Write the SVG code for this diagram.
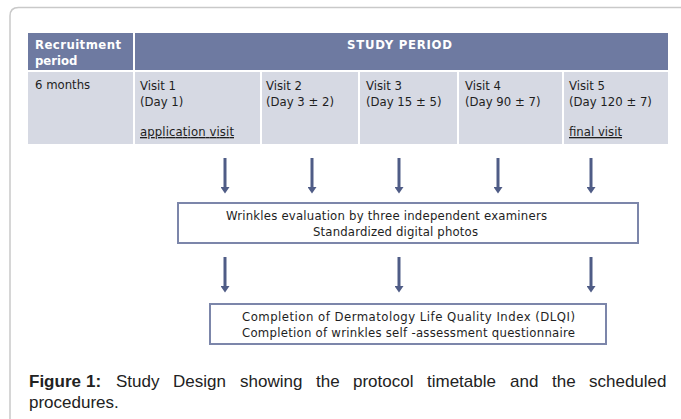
<svg xmlns="http://www.w3.org/2000/svg" width="681" height="419" viewBox="0 0 681 419">
<defs>
<style>
.t{font-family:"DejaVu Sans Condensed","DejaVu Sans","Liberation Sans",sans-serif;font-stretch:condensed;font-size:13px;fill:#1e1e1e}
.h{font-family:"DejaVu Sans Condensed","DejaVu Sans","Liberation Sans",sans-serif;font-stretch:condensed;font-size:13px;font-weight:bold;fill:#fff}
.b{font-family:"DejaVu Sans Condensed","DejaVu Sans","Liberation Sans",sans-serif;font-stretch:condensed;font-size:13px;fill:#1e1e1e}
.cap{font-family:"Liberation Sans","Arial",sans-serif;font-size:17px;fill:#222}
.hd{fill:#6e7aa1}
.cell{fill:#d6d9e3}
.box{fill:#fff;stroke:#7c86aa;stroke-width:2}
.sh{stroke:#4f5c86;stroke-width:3}
.ah{fill:#4f5c86}
</style>
<marker id="arr" markerWidth="3" markerHeight="3" refX="0" refY="1.5" orient="auto" markerUnits="strokeWidth">
<path d="M0,0 L2.2,1.5 L0,3 Z" class="ah"/>
</marker>
</defs>
<rect width="681" height="419" fill="#fff"/>
<path d="M10,419 L10,16 Q10,7.5 18.5,7.5 L681,7.5" fill="none" stroke="#c9c9c9" stroke-width="1.5"/>

<g id="table">
<g id="hdr-recruit">
<rect class="hd" x="28" y="33" width="105" height="37"/>
<text class="h" x="35" y="49" textLength="86">Recruitment</text>
<text class="h" x="35" y="65">period</text>
</g>
<g id="hdr-study">
<rect class="hd" x="135" y="33" width="533" height="37"/>
<text class="h" x="347" y="49" textLength="105">STUDY PERIOD</text>
</g>
<g id="cell-6months">
<rect class="cell" x="28" y="72" width="105" height="72"/>
<text class="t" x="35" y="89">6 months</text>
</g>
<g id="cell-visit1">
<rect class="cell" x="135" y="72" width="125" height="72"/>
<text class="t" x="140" y="90">Visit 1</text>
<text class="t" x="140" y="106">(Day 1)</text>
<text class="t" x="140" y="136" text-decoration="underline" textLength="94">application visit</text>
</g>
<g id="cell-visit2">
<rect class="cell" x="262" y="72" width="96" height="72"/>
<text class="t" x="266" y="90">Visit 2</text>
<text class="t" x="266" y="106">(Day 3 ± 2)</text>
</g>
<g id="cell-visit3">
<rect class="cell" x="360" y="72" width="97" height="72"/>
<text class="t" x="366" y="90">Visit 3</text>
<text class="t" x="366" y="106">(Day 15 ± 5)</text>
</g>
<g id="cell-visit4">
<rect class="cell" x="459" y="72" width="103" height="72"/>
<text class="t" x="465" y="90">Visit 4</text>
<text class="t" x="465" y="106">(Day 90 ± 7)</text>
</g>
<g id="cell-visit5">
<rect class="cell" x="564" y="72" width="104" height="72"/>
<text class="t" x="569" y="90">Visit 5</text>
<text class="t" x="569" y="106">(Day 120 ± 7)</text>
<text class="t" x="569" y="136" text-decoration="underline">final visit</text>
</g>
</g>

<g id="connectors">
<line class="sh" x1="225" y1="158" x2="225" y2="187" marker-end="url(#arr)"/>
<line class="sh" x1="312" y1="158" x2="312" y2="187" marker-end="url(#arr)"/>
<line class="sh" x1="399" y1="158" x2="399" y2="187" marker-end="url(#arr)"/>
<line class="sh" x1="498" y1="158" x2="498" y2="187" marker-end="url(#arr)"/>
<line class="sh" x1="591" y1="158" x2="591" y2="187" marker-end="url(#arr)"/>
<line class="sh" x1="225" y1="257" x2="225" y2="286" marker-end="url(#arr)"/>
<line class="sh" x1="399" y1="257" x2="399" y2="286" marker-end="url(#arr)"/>
<line class="sh" x1="591" y1="257" x2="591" y2="286" marker-end="url(#arr)"/>
</g>

<g id="box-evaluation">
<rect class="box" x="178" y="203" width="460" height="40"/>
<text class="b" x="226" y="220" textLength="321">Wrinkles evaluation by three independent examiners</text>
<text class="b" x="313" y="236" textLength="165">Standardized digital photos</text>
</g>

<g id="box-dlqi">
<rect class="box" x="210" y="304" width="396" height="40"/>
<text class="b" x="242" y="321" textLength="333">Completion of Dermatology Life Quality Index (DLQI)</text>
<text class="b" x="242" y="337" textLength="333">Completion of wrinkles self -assessment questionnaire</text>
</g>

<g id="caption">
<text class="cap" y="387"><tspan x="29" font-weight="bold">Figure</tspan><tspan x="86" font-weight="bold">1:</tspan><tspan x="116">Study</tspan><tspan x="173">Design</tspan><tspan x="240">showing</tspan><tspan x="316">the</tspan><tspan x="353">protocol</tspan><tspan x="427">timetable</tspan><tspan x="510">and</tspan><tspan x="552">the</tspan><tspan x="589">scheduled</tspan></text>
<text class="cap" x="29" y="408">procedures.</text>
</g>
</svg>
